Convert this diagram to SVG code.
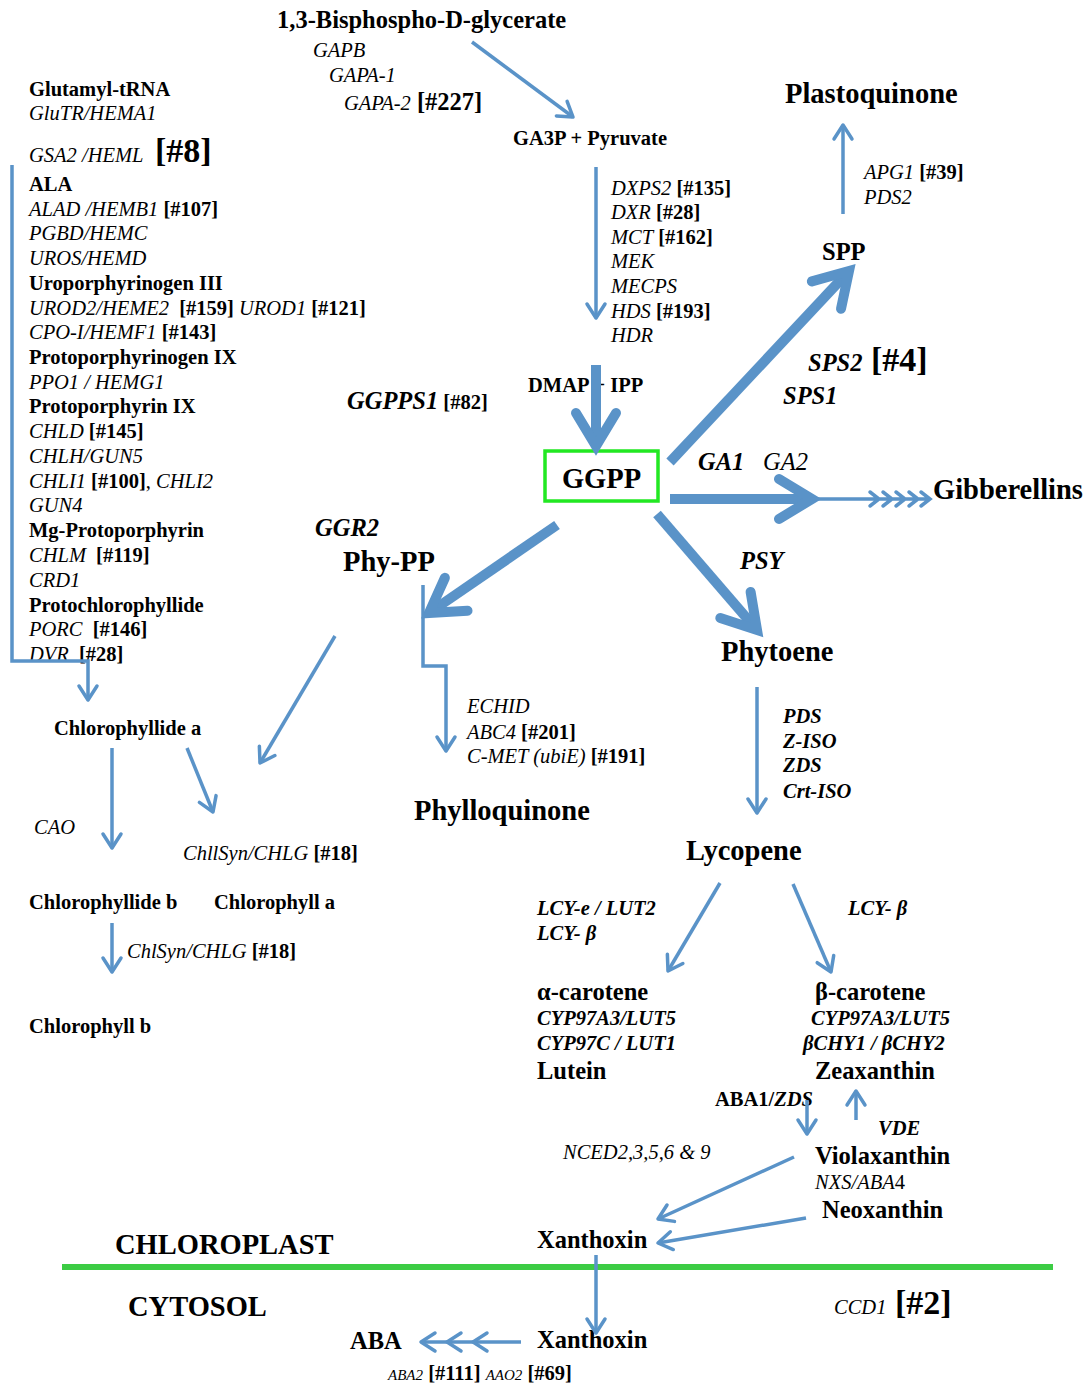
<svg xmlns="http://www.w3.org/2000/svg" width="1086" height="1383" viewBox="0 0 1086 1383">
<style>
text{font-family:"Liberation Serif","Times New Roman",serif;fill:#000;font-size:20.5px}
.b{font-weight:bold}
.i{font-style:italic}
.bi{font-weight:bold;font-style:italic}
.s24{font-size:24.5px}
.s28{font-size:28.5px}
.s34{font-size:34px}
.s15{font-size:15px}
.thin{stroke:#5a93c8;stroke-width:3.5;fill:none;marker-end:url(#ah)}
.thick{stroke:#5a93c8;stroke-width:10;fill:none;marker-end:url(#ahT)}
.chev{stroke:#5a93c8;stroke-width:3.5;fill:none;stroke-linecap:round}
</style>
<defs>
<marker id="ah" markerUnits="userSpaceOnUse" markerWidth="40" markerHeight="40" orient="auto" overflow="visible">
<path d="M-14,-9 L0,0 L-14,9" fill="none" stroke="#5a93c8" stroke-width="3.5" stroke-linecap="round" stroke-linejoin="round"/>
</marker>
<marker id="ahT" markerUnits="userSpaceOnUse" markerWidth="80" markerHeight="80" orient="auto" overflow="visible">
<path d="M-33,-20 L0,0 L-33,20" fill="none" stroke="#5a93c8" stroke-width="10" stroke-linecap="round" stroke-linejoin="miter"/>
</marker>
</defs>
<rect width="1086" height="1383" fill="#fff"/>

<g id="bpg"><text class="b s24" x="277" y="28">1,3-Bisphospho-D-glycerate</text></g>
<g id="gap-enzymes">
<text class="i" x="313" y="57">GAPB</text>
<text class="i" x="329" y="82">GAPA-1</text>
<text x="344" y="110"><tspan class="i">GAPA-2</tspan><tspan class="b s24"> [#227]</tspan></text>
</g>
<g id="ga3p"><text class="b" x="513" y="145">GA3P + Pyruvate</text></g>
<g id="mep-enzymes">
<text x="611" y="195"><tspan class="i">DXPS2</tspan><tspan class="b"> [#135]</tspan></text>
<text x="611" y="219"><tspan class="i">DXR</tspan><tspan class="b"> [#28]</tspan></text>
<text x="611" y="244"><tspan class="i">MCT</tspan><tspan class="b"> [#162]</tspan></text>
<text class="i" x="611" y="268">MEK</text>
<text class="i" x="611" y="293">MECPS</text>
<text x="611" y="318"><tspan class="i">HDS</tspan><tspan class="b"> [#193]</tspan></text>
<text class="i" x="611" y="342">HDR</text>
</g>
<g id="plastoquinone"><text class="b s28" x="785" y="103">Plastoquinone</text></g>
<g id="apg-enzymes">
<text x="864" y="179"><tspan class="i">APG1</tspan><tspan class="b"> [#39]</tspan></text>
<text class="i" x="864" y="204">PDS2</text>
</g>
<g id="spp"><text class="b s24" x="822" y="260">SPP</text></g>
<g id="sps-enzymes">
<text x="808" y="371"><tspan class="bi s24">SPS2</tspan><tspan class="b s34"> [#4]</tspan></text>
<text class="bi s24" x="783" y="404">SPS1</text>
</g>
<g id="ggpps"><text x="347" y="409"><tspan class="bi s24">GGPPS1</tspan><tspan class="b"> [#82]</tspan></text></g>
<g id="dmap"><text class="b" x="528" y="392">DMAP + IPP</text></g>
<g id="ggpp">
<rect x="545" y="451" width="113" height="50" fill="none" stroke="#22e822" stroke-width="3.5"/>
<text class="b s28" x="601.5" y="488" text-anchor="middle">GGPP</text>
</g>
<g id="ga-enzymes">
<text class="bi s24" x="698" y="470">GA1</text>
<text class="i s24" x="763" y="470">GA2</text>
</g>
<g id="gibberellins"><text class="b s28" x="933" y="499">Gibberellins</text></g>
<g id="ggr2"><text class="bi s24" x="315" y="536">GGR2</text></g>
<g id="phypp"><text class="b s28" x="343" y="571">Phy-PP</text></g>
<g id="psy"><text class="bi s24" x="740" y="569">PSY</text></g>
<g id="phytoene"><text class="b s28" x="721" y="661">Phytoene</text></g>
<g id="phyllo-enzymes">
<text class="i" x="467" y="713">ECHID</text>
<text x="467" y="739"><tspan class="i">ABC4</tspan><tspan class="b"> [#201]</tspan></text>
<text x="467" y="763"><tspan class="i">C-MET (ubiE)</tspan><tspan class="b"> [#191]</tspan></text>
</g>
<g id="phylloquinone"><text class="b s28" x="414" y="820">Phylloquinone</text></g>
<g id="pds-enzymes">
<text class="bi" x="783" y="723">PDS</text>
<text class="bi" x="783" y="748">Z-ISO</text>
<text class="bi" x="783" y="772">ZDS</text>
<text class="bi" x="783" y="798">Crt-ISO</text>
</g>
<g id="lycopene"><text class="b s28" x="686" y="860">Lycopene</text></g>
<g id="lcy-enzymes">
<text class="bi" x="537" y="915">LCY-e / LUT2</text>
<text class="bi" x="537" y="940">LCY- β</text>
<text class="bi" x="848" y="915">LCY- β</text>
</g>
<g id="acarotene"><text class="b s24" x="537" y="1000">α-carotene</text></g>
<g id="bcarotene"><text class="b s24" x="815" y="1000">β-carotene</text></g>
<g id="cyp-enzymes">
<text class="bi" x="537" y="1025">CYP97A3/LUT5</text>
<text class="bi" x="537" y="1050">CYP97C / LUT1</text>
<text class="bi" x="811" y="1025">CYP97A3/LUT5</text>
<text class="bi" x="803" y="1050">βCHY1 / βCHY2</text>
</g>
<g id="lutein"><text class="b s24" x="537" y="1079">Lutein</text></g>
<g id="zeaxanthin"><text class="b s24" x="815" y="1079">Zeaxanthin</text></g>
<g id="aba1"><text x="715" y="1106"><tspan class="b">ABA1/</tspan><tspan class="bi">ZDS</tspan></text></g>
<g id="vde"><text class="bi" x="878" y="1135">VDE</text></g>
<g id="nced"><text class="i" x="563" y="1159">NCED2,3,5,6 &amp; 9</text></g>
<g id="violaxanthin"><text class="b s24" x="815" y="1164">Violaxanthin</text></g>
<g id="nxs"><text x="815" y="1189"><tspan class="i">NXS/ABA</tspan>4</text></g>
<g id="neoxanthin"><text class="b s24" x="822" y="1218">Neoxanthin</text></g>
<g id="xanthoxin-cp"><text class="b s24" x="537" y="1248">Xanthoxin</text></g>
<g id="chloroplast"><text class="b s28" x="115" y="1254">CHLOROPLAST</text></g>
<g id="membrane"><line x1="62" y1="1267" x2="1053" y2="1267" stroke="#3ccc44" stroke-width="6"/></g>
<g id="cytosol"><text class="b s28" x="128" y="1316">CYTOSOL</text></g>
<g id="ccd1"><text x="834" y="1314"><tspan class="i">CCD1</tspan><tspan class="b s34"> [#2]</tspan></text></g>
<g id="xanthoxin-cy"><text class="b s24" x="537" y="1348">Xanthoxin</text></g>
<g id="aba"><text class="b s24" x="350" y="1349">ABA</text></g>
<g id="aba-enzymes"><text x="388" y="1380"><tspan class="i s15">ABA2</tspan><tspan class="b"> [#111] </tspan><tspan class="i s15">AAO2</tspan><tspan class="b"> [#69]</tspan></text></g>

<g id="tetrapyrrole">
<text class="b" x="29" y="96">Glutamyl-tRNA</text>
<text class="i" x="29" y="120">GluTR/HEMA1</text>
<text x="29" y="162"><tspan class="i">GSA2 /HEML</tspan><tspan class="b s34" x="155">[#8]</tspan></text>
<text class="b" x="29" y="191">ALA</text>
<text x="29" y="216"><tspan class="i">ALAD /HEMB1</tspan><tspan class="b"> [#107]</tspan></text>
<text class="i" x="29" y="240">PGBD/HEMC</text>
<text class="i" x="29" y="265">UROS/HEMD</text>
<text class="b" x="29" y="290">Uroporphyrinogen III</text>
<text x="29" y="315"><tspan class="i">UROD2/HEME2</tspan><tspan class="b" dx="5"> [#159] </tspan><tspan class="i">UROD1</tspan><tspan class="b"> [#121]</tspan></text>
<text x="29" y="339"><tspan class="i">CPO-I/HEMF1</tspan><tspan class="b"> [#143]</tspan></text>
<text class="b" x="29" y="364">Protoporphyrinogen IX</text>
<text class="i" x="29" y="389">PPO1 / HEMG1</text>
<text class="b" x="29" y="413">Protoporphyrin IX</text>
<text x="29" y="438"><tspan class="i">CHLD</tspan><tspan class="b"> [#145]</tspan></text>
<text class="i" x="29" y="463">CHLH/GUN5</text>
<text x="29" y="488"><tspan class="i">CHLI1</tspan><tspan class="b"> [#100]</tspan>, <tspan class="i">CHLI2</tspan></text>
<text class="i" x="29" y="512">GUN4</text>
<text class="b" x="29" y="537">Mg-Protoporphyrin</text>
<text x="29" y="562"><tspan class="i">CHLM</tspan><tspan class="b" dx="5"> [#119]</tspan></text>
<text class="i" x="29" y="587">CRD1</text>
<text class="b" x="29" y="612">Protochlorophyllide</text>
<text x="29" y="636"><tspan class="i">PORC</tspan><tspan class="b" dx="5"> [#146]</tspan></text>
<text x="29" y="661"><tspan class="i">DVR</tspan><tspan class="b" dx="5"> [#28]</tspan></text>
</g>
<g id="chlorophyllide-a"><text class="b" x="54" y="735">Chlorophyllide a</text></g>
<g id="cao"><text class="i" x="34" y="834">CAO</text></g>
<g id="chlsyn1"><text x="183" y="860"><tspan class="i">ChllSyn/CHLG</tspan><tspan class="b"> [#18]</tspan></text></g>
<g id="chlorophyllide-b"><text class="b" x="29" y="909">Chlorophyllide b</text></g>
<g id="chlorophyll-a"><text class="b" x="214" y="909">Chlorophyll a</text></g>
<g id="chlsyn2"><text x="127" y="958"><tspan class="i">ChlSyn/CHLG</tspan><tspan class="b"> [#18]</tspan></text></g>
<g id="chlorophyll-b"><text class="b" x="29" y="1033">Chlorophyll b</text></g>

<g id="connectors">
<path class="thin" d="M472,42 L573,117"/>
<path class="thin" d="M596,167 L596,318"/>
<path class="thin" d="M843,214 L843,125"/>
<path class="thick" d="M670,462 L849,271"/>
<path class="thick" d="M596,365 L596,446"/>
<path class="thick" d="M670,499 L812,499"/>
<path class="chev" d="M812,499 L930,499 M870,492 L879,499 L870,506 M883,492 L892,499 L883,506 M896,492 L905,499 L896,506 M909,492 L918,499 L909,506 M921,492 L930,499 L921,506"/>
<path class="thick" d="M557,525 L429,613"/>
<path class="thick" d="M657,514 L757,630"/>
<path class="thin" d="M423,585 L423,666 L446,666 L446,751"/>
<path class="thin" d="M12,165 L12,661 L88,661 L88,700"/>
<path class="thin" d="M335,636 L260,763"/>
<path class="thin" d="M112,748 L112,848"/>
<path class="thin" d="M187,748 L213,812"/>
<path class="thin" d="M112,923 L112,972"/>
<path class="thin" d="M757,687 L757,813"/>
<path class="thin" d="M720,883 L668,971"/>
<path class="thin" d="M793,884 L831,972"/>
<path class="thin" d="M807,1100 L807,1134"/>
<path class="thin" d="M856,1120 L856,1091"/>
<path class="thin" d="M794,1157 L658,1219"/>
<path class="thin" d="M806,1218 L658,1243"/>
<path class="thin" d="M596,1255 L596,1333"/>
<path class="thin" d="M521,1342 L421,1342"/>
<path class="chev" d="M461,1333 L447,1342 L461,1351 M487,1333 L473,1342 L487,1351"/>
</g>
</svg>
